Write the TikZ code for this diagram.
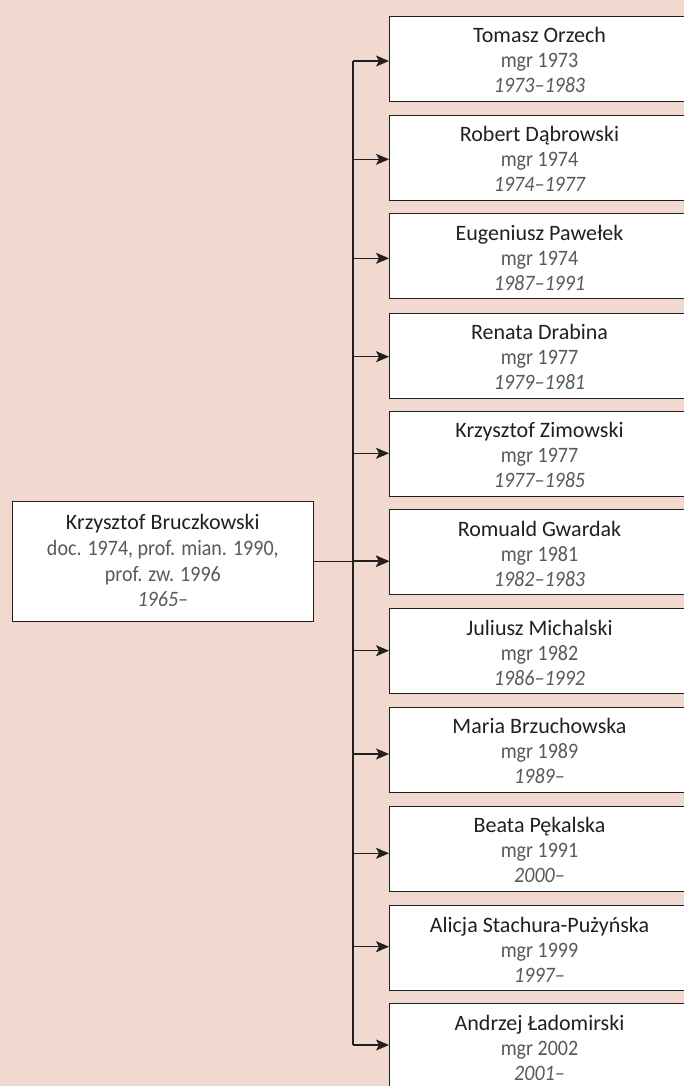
\documentclass[tikz,border=0pt]{standalone}
\usepackage{fontspec}
\setmainfont{Carlito}
\newfontfamily\greyfont[FakeStretch=0.91]{Carlito}
\newfontfamily\greyitfont[FakeStretch=0.88,UprightFont=*-Italic]{Carlito}
\usetikzlibrary{arrows.meta,calc}
\definecolor{bg}{RGB}{241,217,207}
\definecolor{ink}{HTML}{231F20}
\definecolor{soft}{HTML}{58595B}
\tikzset{
  box/.style={draw=ink, line width=1pt, fill=white, rectangle, inner sep=0pt, anchor=north west},
  rbox/.style={box, minimum width=300pt, minimum height=85pt},
  txt/.style={anchor=base, inner sep=0pt},
  nametext/.style={txt, text=ink, font=\fontsize{22}{26}\selectfont},
  subtext/.style={txt, text=soft, font=\greyfont\fontsize{22}{26}\selectfont},
  yeartext/.style={txt, text=soft, font=\greyfont\fontsize{22}{26}\selectfont\itshape},
  conn/.style={draw=ink, line width=1.1pt},
  arr/.style={conn, -{Stealth[length=13pt,width=11pt,inset=3pt]}},
}
\newcommand{\pbox}[6]{%
  \node[rbox] (#1) at (389,#2) {};
  \node[nametext] (#1n) at ($(#1.north)+(0,27)$) {#4};
  \node[subtext] (#1m) at ($(#1.north)+(0,52)$) {#5};
  \node[yeartext] (#1y) at ($(#1.north)+(0,77)$) {#6};
  \coordinate (#1k) at (353,#3);
}
\begin{document}
\begin{tikzpicture}[x=1pt,y=-1pt]
\useasboundingbox (0,0) rectangle (684,1086);
\clip (0,0) rectangle (684,1086);
\fill[bg] (0,0) rectangle (684,1086);

% left box
\node[box, minimum width=301.3pt, minimum height=120pt] (L) at (11.7,501) {};
\node[nametext] (Ln) at ($(L.north)+(0,28)$) {Krzysztof Bruczkowski};
\node[subtext] (L2) at ($(L.north)+(0,54)$) {doc. 1974, prof. mian. 1990,};
\node[subtext] (L3) at ($(L.north)+(0,80.7)$) {prof. zw. 1996};
\node[yeartext] (L4) at ($(L.north)+(0,105.7)$) {1965–};

\pbox{b1}{16}{61}{Tomasz Orzech}{mgr 1973}{1973–1983}
\pbox{b2}{115}{159.3}{Robert Dąbrowski}{mgr 1974}{1974–1977}
\pbox{b3}{213.3}{258.3}{Eugeniusz Pawełek}{mgr 1974}{1987–1991}
\pbox{b4}{312.7}{356.7}{Renata Drabina}{mgr 1977}{1979–1981}
\pbox{b5}{410.7}{453.3}{Krzysztof Zimowski}{mgr 1977}{1977–1985}
\pbox{b6}{509}{561}{Romuald Gwardak}{mgr 1981}{1982–1983}
\pbox{b7}{608.3}{650.7}{Juliusz Michalski}{mgr 1982}{1986–1992}
\pbox{b8}{706.7}{754}{Maria Brzuchowska}{mgr 1989}{1989–}
\pbox{b9}{805.7}{853.3}{Beata Pękalska}{mgr 1991}{2000–}
\pbox{b10}{905}{946.7}{Alicja Stachura-Pużyńska}{mgr 1999}{1997–}
\pbox{b11}{1003}{1045}{Andrzej Ładomirski}{mgr 2002}{2001–}

% trunk
\draw[conn] (b1k) -- (b11k);
% branches
\foreach \i in {1,...,11} {
  \draw[arr] (b\i k) -- (b\i k -| b\i.west);
}
\draw[arr] (L.east) -- (L.east -| b6.west);
\end{tikzpicture}
\end{document}
